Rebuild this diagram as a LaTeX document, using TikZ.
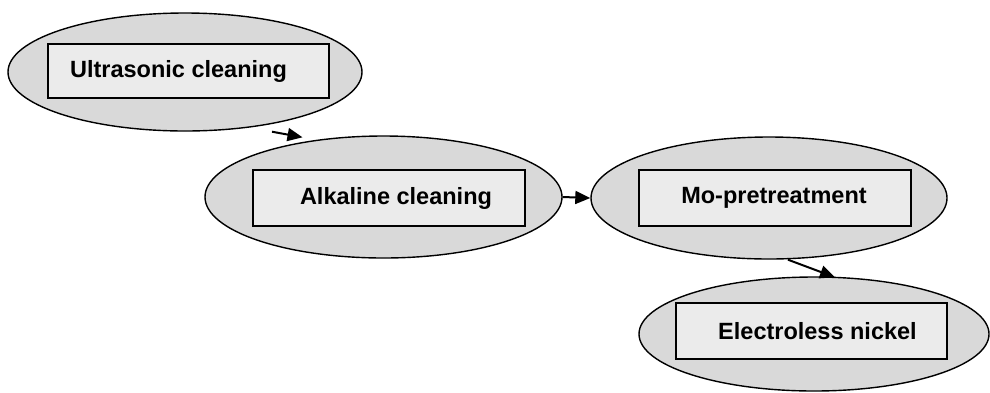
\documentclass[tikz,border=0pt]{standalone}
\usepackage{fontspec}
\setmainfont{Liberation Sans}
\usetikzlibrary{shapes.geometric,arrows.meta,calc}

\definecolor{stagefill}{gray}{0.85}
\definecolor{boxfill}{gray}{0.92}

\tikzset{
  stage/.style={ellipse, draw=black, line width=1.4pt, fill=stagefill, inner sep=0pt},
  stepbox/.style={rectangle, draw=black, line width=1.8pt, fill=boxfill, inner sep=0pt},
  steptext/.style={font=\bfseries\fontsize{23.5pt}{26pt}\selectfont, inner sep=0pt, anchor=center},
  flow/.style={line width=2pt, -{Triangle[length=15pt,width=13pt]}}
}

\begin{document}
\begin{tikzpicture}[x=1pt, y=-1pt]
  \useasboundingbox (0,0) rectangle (990,392);

  % process stages: ellipse with a labelled box inside
  \node[stage, minimum width=354pt, minimum height=118pt] (e1) at (185,72) {};
  \node[stepbox, minimum width=281pt, minimum height=54pt] (r1) at (188.5,71) {};
  \node[steptext] (t1) at ($(r1.center)+(-10,0)$) {Ultrasonic cleaning};

  \node[stage, minimum width=357pt, minimum height=122pt] (e2) at (383.5,197) {};
  \node[stepbox, minimum width=272pt, minimum height=56pt] (r2) at (389,198) {};
  \node[steptext] (t2) at ($(r2.center)+(7,0)$) {Alkaline cleaning};

  \node[stage, minimum width=356pt, minimum height=122pt] (e3) at (769,198) {};
  \node[stepbox, minimum width=272pt, minimum height=56pt] (r3) at (775,198) {};
  \node[steptext] (t3) at ($(r3.center)+(-1,0)$) {Mo-pretreatment};

  \node[stage, minimum width=350pt, minimum height=114pt] (e4) at (814,334) {};
  \node[stepbox, minimum width=271pt, minimum height=56pt] (r4) at (811.5,331) {};
  \node[steptext] (t4) at ($(r4.center)+(6,0)$) {Electroless nickel};

  % connectors between stages
  \draw[flow] ($(e1.south)+(87,0)$) -- ($(e2.north)+(-81,2)$);
  \draw[flow] (e2.east) -- (e3.west);
  \draw[flow] ($(e3.south)+(19,0)$) -- ($(e4.north)+(21,1)$);
\end{tikzpicture}
\end{document}
